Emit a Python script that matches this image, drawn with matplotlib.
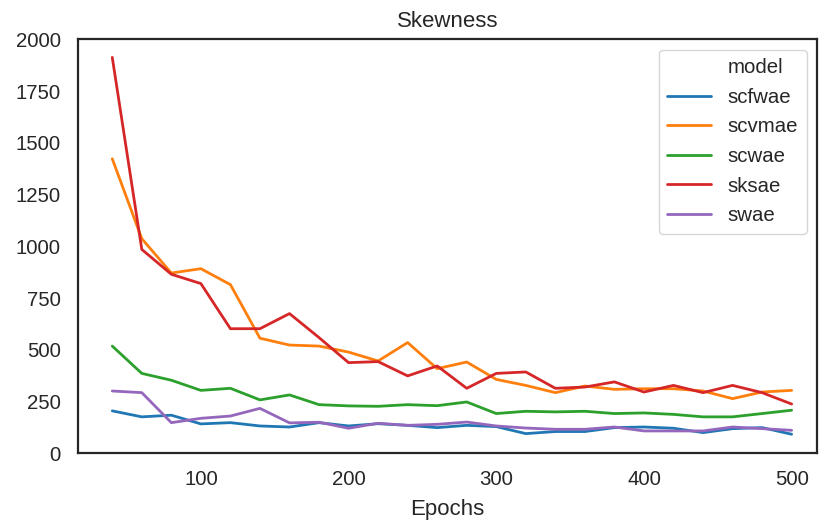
import matplotlib
matplotlib.use("Agg")
import matplotlib.pyplot as plt
from matplotlib.lines import Line2D
import seaborn as sns

sns.set_theme(style="white")
plt.rcParams['font.family'] = ['Liberation Sans', 'DejaVu Sans']

epochs = list(range(40, 501, 20))

scfwae = [205, 176, 184, 142, 148, 132, 127, 148, 132, 143, 135, 124,
          135, 129, 95, 105, 105, 124, 127, 121, 100, 119, 124, 92]
scvmae = [1423, 1037, 871, 892, 815, 556, 523, 518, 489, 446, 535, 409,
          441, 357, 328, 293, 325, 309, 312, 312, 301, 264, 296, 304]
scwae = [518, 386, 353, 304, 314, 258, 282, 235, 229, 227, 235, 230,
         248, 192, 203, 200, 203, 192, 195, 188, 176, 176, 192, 208]
sksae = [1913, 985, 865, 820, 602, 602, 675, 559, 438, 443, 374, 422,
         314, 386, 393, 314, 320, 345, 296, 328, 293, 328, 293, 238]
swae = [301, 293, 148, 169, 180, 217, 147, 150, 121, 145, 135, 140,
        151, 132, 122, 116, 116, 127, 108, 108, 108, 127, 119, 111]

models = ["scfwae", "scvmae", "scwae", "sksae", "swae"]
series = [scfwae, scvmae, scwae, sksae, swae]
colors = ["#1f77b4", "#ff7f0e", "#2ca02c", "#d62728", "#9467bd"]

FS_TICK = 14.7
FS_LAB = 16
fig = plt.figure(figsize=(8.25, 5.25), dpi=100)
ax = fig.add_axes([0.0949, 0.1366, 0.8951, 0.7884])

for name, vals, c in zip(models, series, colors):
    ax.plot(epochs, vals, color=c, lw=2.0, label=name)

ax.set_xlim(17, 517)
ax.set_ylim(0, 2000)
ax.set_xticks([100, 200, 300, 400, 500])
ax.set_yticks([0, 250, 500, 750, 1000, 1250, 1500, 1750, 2000])
ax.tick_params(labelsize=FS_TICK, colors="#262626", length=0)
ax.tick_params(axis="x", pad=12)
ax.tick_params(axis="y", pad=12.5)
for s in ax.spines.values():
    s.set_color("#262626")
    s.set_linewidth(1.6)
ax.set_title("Skewness", fontsize=FS_LAB, color="#262626", pad=9)
ax.set_xlabel("Epochs", fontsize=FS_LAB, color="#262626", labelpad=7.5)

handles = [Line2D([], [], color="none")] + [Line2D([], [], color=c, lw=2.0) for c in colors]
labels = ["model"] + models
leg = ax.legend(handles, labels, loc="upper right", fontsize=FS_TICK, frameon=True,
                handlelength=2.15, handletextpad=0.8, labelspacing=0.52,
                borderpad=0.42)
for t in leg.get_texts():
    t.set_color("#262626")

fig.savefig("out.png", dpi=100)
